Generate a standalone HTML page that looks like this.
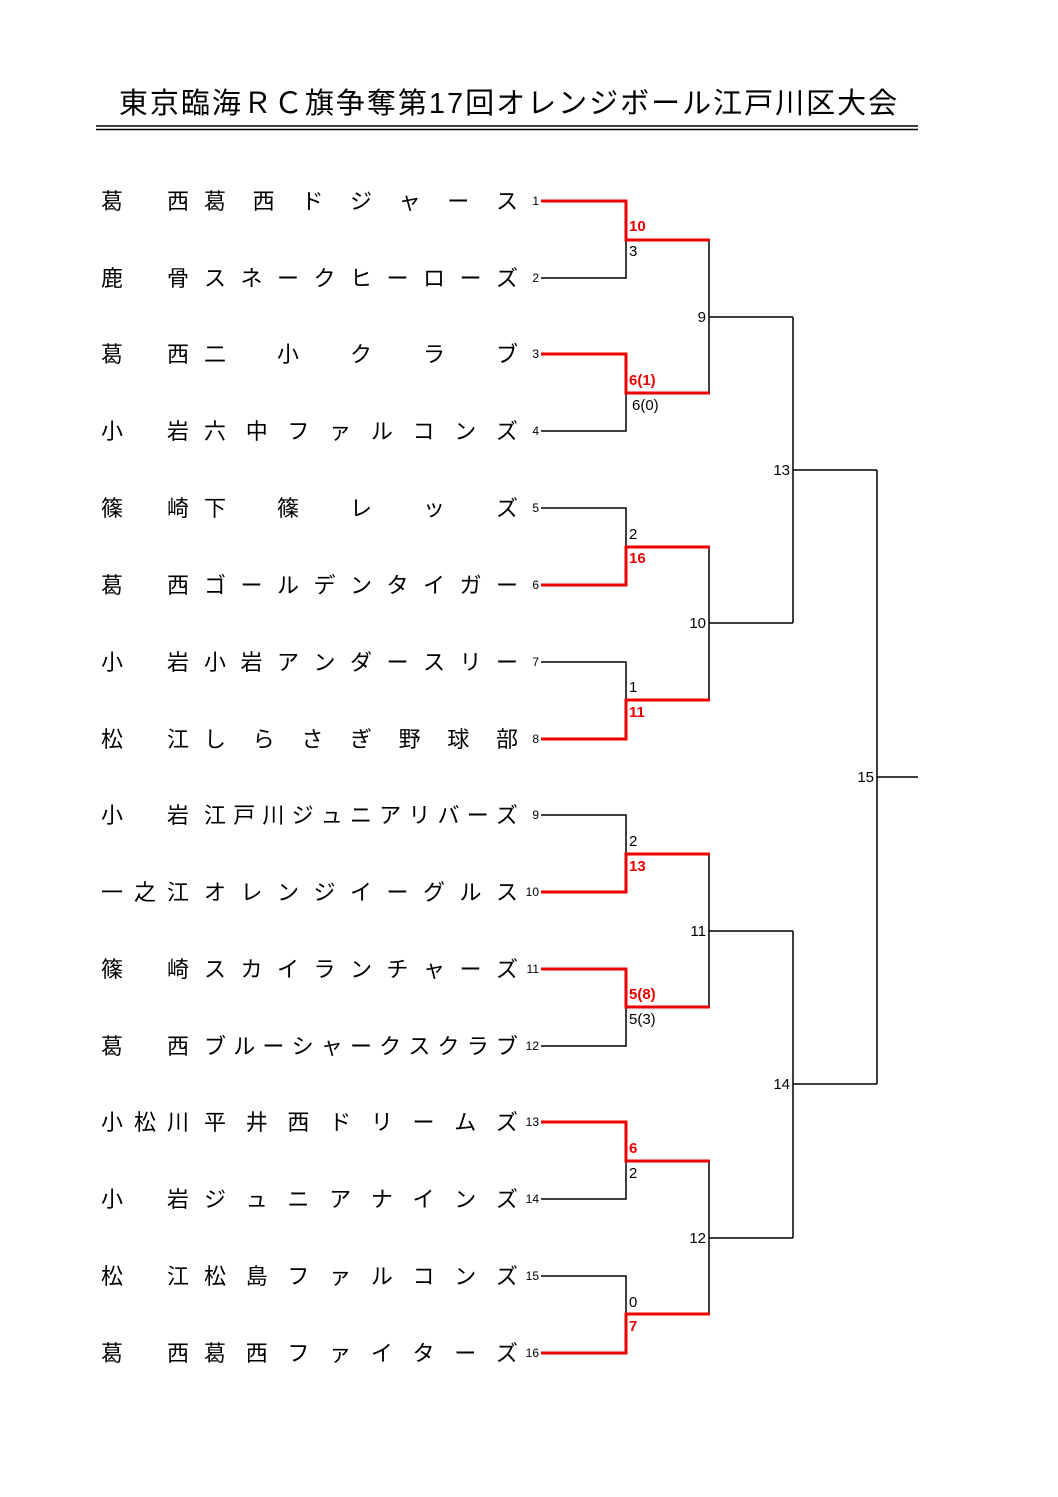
<!DOCTYPE html>
<html><head><meta charset="utf-8"><style>
body{margin:0;background:#fff;width:1058px;height:1497px;position:relative;overflow:hidden;font-family:"Liberation Sans","Noto Sans CJK JP",sans-serif;}
.t{position:absolute;left:0;top:86px;width:1018px;text-align:center;font-size:29px;letter-spacing:2px;line-height:36px;color:#000;}
.a,.n{position:absolute;height:26px;line-height:26px;font-size:22px;display:flex;justify-content:space-between;color:#000;}
.a{left:101px;width:88px;}
.n{left:204px;width:314px;}
.a span,.n span{width:22px;text-align:center;}
svg{position:absolute;left:0;top:0;}
</style></head><body>
<div class="t">東京臨海ＲＣ旗争奪第17回オレンジボール江戸川区大会</div>
<div class="a" style="top:189px"><span>葛</span><span>西</span></div><div class="n" style="top:189px"><span>葛</span><span>西</span><span>ド</span><span>ジ</span><span>ャ</span><span>ー</span><span>ス</span></div>
<div class="a" style="top:266px"><span>鹿</span><span>骨</span></div><div class="n" style="top:266px"><span>ス</span><span>ネ</span><span>ー</span><span>ク</span><span>ヒ</span><span>ー</span><span>ロ</span><span>ー</span><span>ズ</span></div>
<div class="a" style="top:342px"><span>葛</span><span>西</span></div><div class="n" style="top:342px"><span>二</span><span>小</span><span>ク</span><span>ラ</span><span>ブ</span></div>
<div class="a" style="top:419px"><span>小</span><span>岩</span></div><div class="n" style="top:419px"><span>六</span><span>中</span><span>フ</span><span>ァ</span><span>ル</span><span>コ</span><span>ン</span><span>ズ</span></div>
<div class="a" style="top:496px"><span>篠</span><span>崎</span></div><div class="n" style="top:496px"><span>下</span><span>篠</span><span>レ</span><span>ッ</span><span>ズ</span></div>
<div class="a" style="top:573px"><span>葛</span><span>西</span></div><div class="n" style="top:573px"><span>ゴ</span><span>ー</span><span>ル</span><span>デ</span><span>ン</span><span>タ</span><span>イ</span><span>ガ</span><span>ー</span></div>
<div class="a" style="top:650px"><span>小</span><span>岩</span></div><div class="n" style="top:650px"><span>小</span><span>岩</span><span>ア</span><span>ン</span><span>ダ</span><span>ー</span><span>ス</span><span>リ</span><span>ー</span></div>
<div class="a" style="top:727px"><span>松</span><span>江</span></div><div class="n" style="top:727px"><span>し</span><span>ら</span><span>さ</span><span>ぎ</span><span>野</span><span>球</span><span>部</span></div>
<div class="a" style="top:803px"><span>小</span><span>岩</span></div><div class="n" style="top:803px"><span>江</span><span>戸</span><span>川</span><span>ジ</span><span>ュ</span><span>ニ</span><span>ア</span><span>リ</span><span>バ</span><span>ー</span><span>ズ</span></div>
<div class="a" style="top:880px"><span>一</span><span>之</span><span>江</span></div><div class="n" style="top:880px"><span>オ</span><span>レ</span><span>ン</span><span>ジ</span><span>イ</span><span>ー</span><span>グ</span><span>ル</span><span>ス</span></div>
<div class="a" style="top:957px"><span>篠</span><span>崎</span></div><div class="n" style="top:957px"><span>ス</span><span>カ</span><span>イ</span><span>ラ</span><span>ン</span><span>チ</span><span>ャ</span><span>ー</span><span>ズ</span></div>
<div class="a" style="top:1034px"><span>葛</span><span>西</span></div><div class="n" style="top:1034px"><span>ブ</span><span>ル</span><span>ー</span><span>シ</span><span>ャ</span><span>ー</span><span>ク</span><span>ス</span><span>ク</span><span>ラ</span><span>ブ</span></div>
<div class="a" style="top:1110px"><span>小</span><span>松</span><span>川</span></div><div class="n" style="top:1110px"><span>平</span><span>井</span><span>西</span><span>ド</span><span>リ</span><span>ー</span><span>ム</span><span>ズ</span></div>
<div class="a" style="top:1187px"><span>小</span><span>岩</span></div><div class="n" style="top:1187px"><span>ジ</span><span>ュ</span><span>ニ</span><span>ア</span><span>ナ</span><span>イ</span><span>ン</span><span>ズ</span></div>
<div class="a" style="top:1264px"><span>松</span><span>江</span></div><div class="n" style="top:1264px"><span>松</span><span>島</span><span>フ</span><span>ァ</span><span>ル</span><span>コ</span><span>ン</span><span>ズ</span></div>
<div class="a" style="top:1341px"><span>葛</span><span>西</span></div><div class="n" style="top:1341px"><span>葛</span><span>西</span><span>フ</span><span>ァ</span><span>イ</span><span>タ</span><span>ー</span><span>ズ</span></div>
<svg width="1058" height="1497" font-family="Liberation Sans, sans-serif">
<line x1="96" y1="126" x2="918" y2="126" stroke="#000" stroke-width="1.5"/>
<line x1="96" y1="129.5" x2="918" y2="129.5" stroke="#000" stroke-width="1.5"/>
<g font-size="12" text-anchor="end" fill="#000">
<text x="539" y="205">1</text><text x="539" y="282">2</text><text x="539" y="358">3</text><text x="539" y="435">4</text>
<text x="539" y="512">5</text><text x="539" y="589">6</text><text x="539" y="666">7</text><text x="539" y="743">8</text>
<text x="539" y="819">9</text><text x="539" y="896">10</text><text x="539" y="973">11</text><text x="539" y="1050">12</text>
<text x="539" y="1126">13</text><text x="539" y="1203">14</text><text x="539" y="1280">15</text><text x="539" y="1357">16</text>
</g>
<g fill="none" stroke="#000" stroke-width="1.5">
<polyline points="541,278 626,278 626,240"/>
<polyline points="541,431 626,431 626,393"/>
<polyline points="541,508 626,508 626,547"/>
<polyline points="541,662 626,662 626,700"/>
<polyline points="541,815 626,815 626,854"/>
<polyline points="541,1046 626,1046 626,1007"/>
<polyline points="541,1199 626,1199 626,1161"/>
<polyline points="541,1276 626,1276 626,1314"/>
<polyline points="709,240 709,393"/><line x1="709" y1="317" x2="793" y2="317"/>
<polyline points="709,547 709,700"/><line x1="709" y1="623" x2="793" y2="623"/>
<polyline points="709,854 709,1007"/><line x1="709" y1="931" x2="793" y2="931"/>
<polyline points="709,1161 709,1314"/><line x1="709" y1="1238" x2="793" y2="1238"/>
<polyline points="793,317 793,623"/><line x1="793" y1="470" x2="877" y2="470"/>
<polyline points="793,931 793,1238"/><line x1="793" y1="1084" x2="877" y2="1084"/>
<polyline points="877,470 877,1084"/><line x1="877" y1="777" x2="918" y2="777"/>
</g>
<g fill="none" stroke="#e00" stroke-width="3">
<polyline points="541,201 626,201 626,240 710,240"/>
<polyline points="541,354 626,354 626,393 710,393"/>
<polyline points="541,585 626,585 626,547 710,547"/>
<polyline points="541,739 626,739 626,700 710,700"/>
<polyline points="541,892 626,892 626,854 710,854"/>
<polyline points="541,969 626,969 626,1007 710,1007"/>
<polyline points="541,1122 626,1122 626,1161 710,1161"/>
<polyline points="541,1353 626,1353 626,1314 710,1314"/>
</g>
<g font-size="15" fill="#e00" font-weight="bold">
<text x="629" y="231">10</text><text x="629" y="385">6(1)</text><text x="629" y="563">16</text><text x="629" y="717">11</text>
<text x="629" y="871">13</text><text x="629" y="999">5(8)</text><text x="629" y="1153">6</text><text x="629" y="1331">7</text>
</g>
<g font-size="15" fill="#000">
<text x="629" y="256">3</text><text x="632" y="410">6(0)</text><text x="629" y="539">2</text><text x="629" y="692">1</text>
<text x="629" y="846">2</text><text x="629" y="1024">5(3)</text><text x="629" y="1178">2</text><text x="629" y="1307">0</text>
</g>
<g font-size="15" fill="#000" text-anchor="end">
<text x="706" y="322">9</text><text x="706" y="628">10</text><text x="706" y="936">11</text><text x="706" y="1243">12</text>
<text x="790" y="475">13</text><text x="790" y="1089">14</text><text x="874" y="782">15</text>
</g>
</svg>
</body></html>
